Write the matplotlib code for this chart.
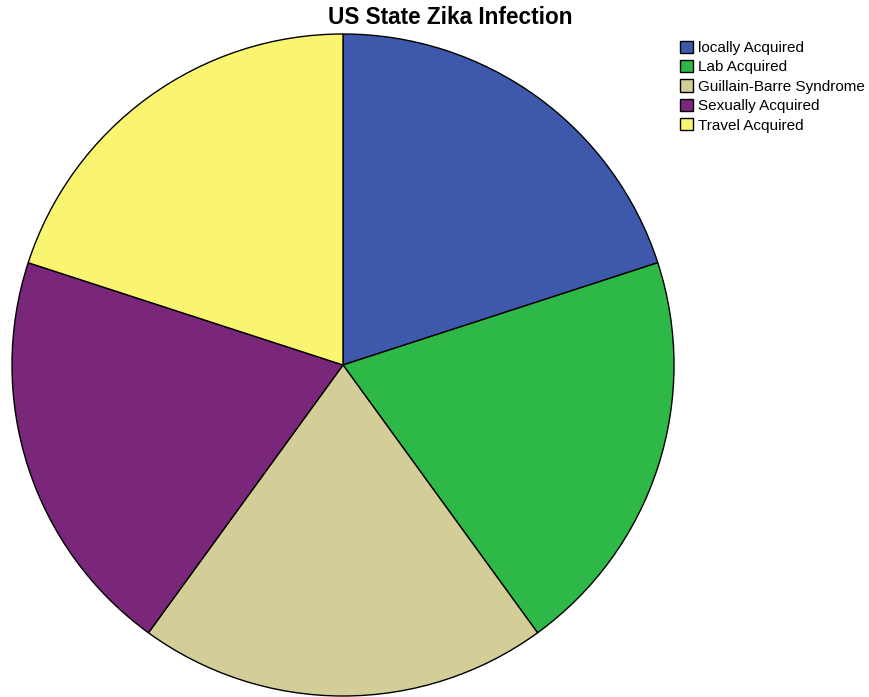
import matplotlib
matplotlib.use("Agg")
import matplotlib.pyplot as plt
from matplotlib.patches import Patch

plt.rcParams['font.family'] = ['Liberation Sans', 'DejaVu Sans']

categories = ["locally Acquired", "Lab Acquired", "Guillain-Barre Syndrome",
              "Sexually Acquired", "Travel Acquired"]
values = [1, 1, 1, 1, 1]
colors = ["#3E58AC", "#2EB848", "#D3CE97", "#7A267A", "#FAF571"]

fig = plt.figure(figsize=(8.70, 6.97), dpi=100)
ax = fig.add_axes([11 / 870, 0 / 697, 664 / 870, 664 / 697])
ax.pie(values, colors=colors, startangle=90, counterclock=False, radius=1,
       wedgeprops=dict(edgecolor="black", linewidth=1.0))
ax.set_xlim(-1.003, 1.003)
ax.set_ylim(-1.003, 1.003)
ax.set_aspect("equal")
ax.axis("off")

fig.text(450 / 870, 1 - 18 / 697, "US State Zika Infection", ha="center", va="center",
         fontsize=16.3, fontweight="bold")

handles = [Patch(facecolor=c, edgecolor="black", linewidth=1.0) for c in colors]
fig.legend(handles, categories, loc="upper left",
           bbox_to_anchor=(677 / 870, 1 - 37.5 / 697), frameon=False,
           fontsize=11, handlelength=0.85, handleheight=0.85,
           handletextpad=0.3, labelspacing=0.33, borderpad=0.2,
           borderaxespad=0)

fig.savefig("out.png", dpi=100)
